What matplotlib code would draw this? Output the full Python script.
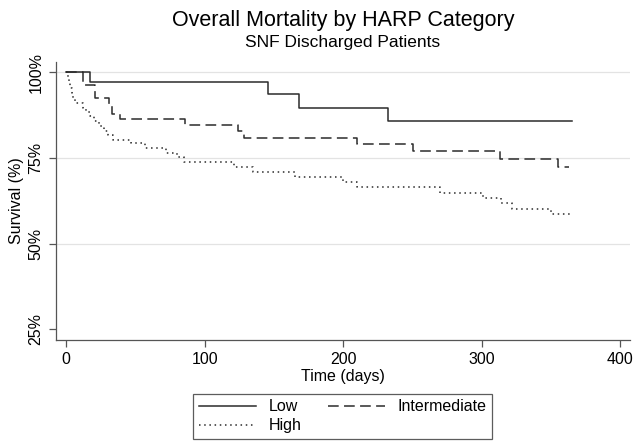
import numpy as np
import matplotlib
matplotlib.use("Agg")
import matplotlib.pyplot as plt

plt.rcParams['font.family'] = ['Liberation Sans', 'DejaVu Sans']

# Kaplan-Meier step points (days, survival %)
low_t = [0, 17, 146, 168, 232, 365]
low_s = [100, 97.1, 93.6, 89.6, 85.9, 85.9]

mid_t = [0, 12, 21, 31, 33, 39, 86, 124, 128, 210, 250, 313, 355, 363]
mid_s = [100, 96.2, 92.6, 90.8, 87.8, 86.5, 84.5, 82.8, 80.7, 79.1, 76.9, 74.8, 72.5, 72.5]

high_t = [0, 1, 2, 3, 4, 5, 6, 12, 14, 17, 20, 24, 27, 30, 34, 47, 57, 72,
          80, 85, 121, 135, 165, 200, 210, 270, 301, 314, 322, 350, 365]
high_s = [100, 98.5, 97, 95.5, 94, 92.5, 91, 89.7, 88.4, 87.1, 85.7, 84.3, 82.9,
          81.6, 80.3, 79.3, 77.8, 76.4, 75.3, 73.8, 72.3, 70.9, 69.4, 68.0, 66.5,
          64.7, 63.3, 61.8, 60.1, 58.7, 58.7]

x_ticks = [0, 100, 200, 300, 400]
y_ticks = [25, 50, 75, 100]
y_grid = [50, 75, 100]

fig = plt.figure(figsize=(6.36, 4.47), dpi=100)
ax = fig.add_axes([0.088, 0.2394, 0.9026, 0.6219])

for g in y_grid:
    ax.axhline(g, color='#e3e3e3', lw=0.9, zorder=0)

lc = '#2b2b2b'
h_low, = ax.step(low_t, low_s, where='post', color=lc, lw=1.1, label='Low')
h_mid, = ax.step(mid_t, mid_s, where='post', color=lc, lw=1.1,
                 dashes=(7, 3.5), label='Intermediate')
h_high, = ax.step(high_t, high_s, where='post', color=lc, lw=1.1,
                  dashes=(1, 2.4), label='High')

ax.set_xlim(-7.4, 407)
ax.set_ylim(21.9, 103)
ax.set_xticks(x_ticks)
ax.set_yticks(y_ticks)
ax.set_yticklabels([f"{v}%" for v in y_ticks], rotation=90, va='center')
ax.tick_params(labelsize=11.5, length=5, width=0.9, color='#555555', pad=4)
for s in ['top', 'right']:
    ax.spines[s].set_visible(False)
for s in ['left', 'bottom']:
    ax.spines[s].set_color('#555555')
    ax.spines[s].set_linewidth(0.9)

ax.set_xlabel('Time (days)', fontsize=11.5, labelpad=1)
ax.set_ylabel('Survival (%)', fontsize=11.5, labelpad=3)

fig.text(0.539, 0.955, 'Overall Mortality by HARP Category', ha='center',
         va='center', fontsize=15.5)
fig.text(0.539, 0.905, 'SNF Discharged Patients', ha='center', va='center',
         fontsize=12.5)

leg = fig.legend([h_low, h_high, h_mid], ['Low', 'High', 'Intermediate'],
                 ncol=2, loc='lower center', bbox_to_anchor=(0.539, 0.0),
                 fontsize=11.5, fancybox=False, edgecolor='#333333',
                 handlelength=3.6, handletextpad=0.8, columnspacing=1.6,
                 labelspacing=0.25, borderpad=0.35)
leg.get_frame().set_linewidth(0.9)

fig.savefig('out.png', dpi=100)
